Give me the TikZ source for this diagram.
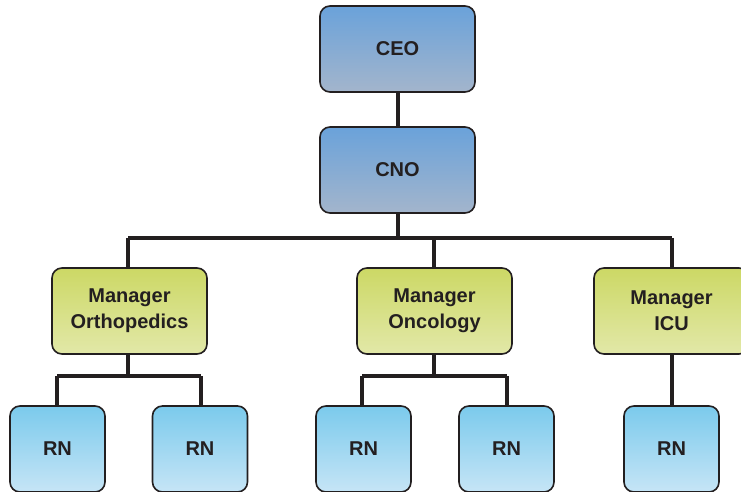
\documentclass[tikz,border=0pt]{standalone}
\usepackage{fontspec}
\setmainfont{Liberation Sans}
\begin{document}
\begin{tikzpicture}[x=1pt,y=-1pt,
  box/.style={draw=ink,line width=1.6pt,rounded corners=10pt,shade,align=center,
    font=\bfseries\fontsize{20}{26}\selectfont,text=ink,inner sep=0pt},
  exec/.style={box,top color=execTop,bottom color=execBot,minimum width=155pt,minimum height=86pt},
  mgr/.style={box,top color=mgrTop,bottom color=mgrBot,minimum width=155pt,minimum height=86pt},
  rn/.style={box,top color=rnTop,bottom color=rnBot,minimum width=95pt,minimum height=86pt},
  link/.style={draw=ink,line width=4.5pt}
]
\definecolor{ink}{HTML}{231F20}
\definecolor{execTop}{HTML}{6AA2DA}
\definecolor{execBot}{HTML}{A3B5CC}
\definecolor{mgrTop}{HTML}{CCD865}
\definecolor{mgrBot}{HTML}{E2E8A8}
\definecolor{rnTop}{HTML}{7BCAEC}
\definecolor{rnBot}{HTML}{C6E5F6}
\useasboundingbox (0,0) rectangle (741,492);
\clip (0,0) rectangle (741,492);
% coordinates for buses
\coordinate (bus) at (398,238);
\coordinate (busL) at (128,238);
\coordinate (busR) at (672,238);
\coordinate (obus) at (128,376);
\coordinate (obusL) at (57,376);
\coordinate (obusR) at (201,376);
\coordinate (nbus) at (434,376);
\coordinate (nbusL) at (362,376);
\coordinate (nbusR) at (507,376);
% connectors first (under boxes)
\path[link] (398,49) coordinate (ceoC) -- (398,170) coordinate (cnoC);
\path[link] (cnoC) -- (bus);
\path[link] (busL) -- (busR);
\path[link] (busL) -- (128,311) coordinate (mo);
\path[link] (434,238) -- (434,311) coordinate (mn);
\path[link] (busR) -- (672,311) coordinate (mi);
\path[link] (mo) -- (obus);
\path[link] (obusL) -- (obusR);
\path[link] (obusL) -- (57,449) coordinate (r1);
\path[link] (obusR) -- (201,449) coordinate (r2);
\path[link] (mn) -- (nbus);
\path[link] (nbusL) -- (nbusR);
\path[link] (nbusL) -- (362,449) coordinate (r3);
\path[link] (nbusR) -- (507,449) coordinate (r4);
\path[link] (mi) -- (672,449) coordinate (r5);
% boxes
\node[exec] (ceo) at (397.5,49) {CEO};
\node[exec] (cno) at (397.5,170) {CNO};
\node[mgr] (mort) at (129.5,311) {Manager\\Orthopedics};
\node[mgr] (monc) at (434.5,311) {Manager\\Oncology};
\node[mgr] (micu) at (671.5,311) {Manager\\ICU};
\node[rn] (rn1) at (57.5,449) {RN};
\node[rn] (rn2) at (200,449) {RN};
\node[rn] (rn3) at (363.5,449) {RN};
\node[rn] (rn4) at (506.5,449) {RN};
\node[rn] (rn5) at (671.5,449) {RN};
\end{tikzpicture}
\end{document}
